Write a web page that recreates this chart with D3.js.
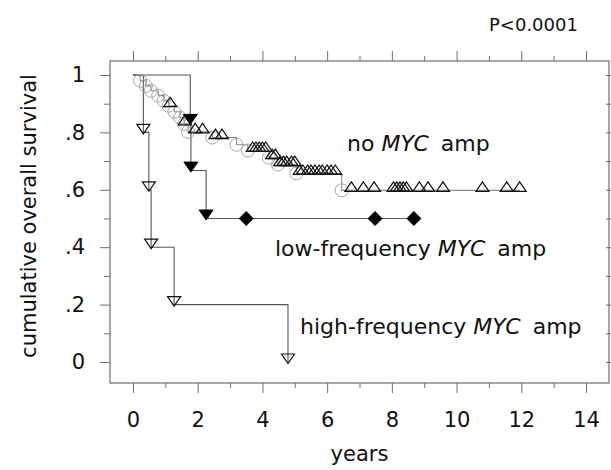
<!DOCTYPE html>
<html>
<head>
<meta charset="utf-8">
<script src="https://cdn.jsdelivr.net/npm/d3@7"></script>
<style>
  html, body { margin: 0; padding: 0; background: #fff; }
  svg { display: block; }
  text { font-family: "DejaVu Sans", Verdana, sans-serif; fill: #111; }
</style>
</head>
<body>
<svg id="chart" width="611" height="470"></svg>
<script>
// ---- data ----
const xTicks = [0, 2, 4, 6, 8, 10, 12, 14];
const yTicks = [0, 0.2, 0.4, 0.6, 0.8, 1];
const yTickLabels = ["0", ".2", ".4", ".6", ".8", "1"];

// no MYC amp: event times / survival after each event
const noMycEventTimes = [0.22, 0.40, 0.55, 0.78, 0.95, 1.10, 1.28, 1.45, 1.58, 1.70, 2.45, 3.20, 3.55, 4.20, 4.48, 5.05, 6.45];
const noMycSurvival   = [0.980, 0.962, 0.945, 0.928, 0.910, 0.893, 0.872, 0.852, 0.830, 0.802, 0.782, 0.757, 0.737, 0.712, 0.688, 0.657, 0.598];
const noMycCensored   = [1.15, 1.60, 1.92, 2.15, 2.55, 2.75, 3.70, 3.80, 3.90, 4.00, 4.10, 4.30, 4.40, 4.55, 4.65, 4.75, 4.90, 5.00,
                         5.15, 5.25, 5.40, 5.50, 5.62, 5.75, 5.85, 6.00, 6.12, 6.25, 6.75, 7.12, 7.45, 8.05, 8.15, 8.25, 8.35, 8.45,
                         8.85, 9.12, 9.58, 10.80, 11.55, 11.95];

// low-frequency MYC amp
const lowEventTimes = [1.77, 1.79, 2.26];
const lowSurvival   = [0.833, 0.667, 0.500];
const lowCensored   = [3.50, 7.48, 8.68];

// high-frequency MYC amp
const highEventTimes = [0.32, 0.49, 0.56, 1.27, 4.79];
const highSurvival   = [0.8, 0.6, 0.4, 0.2, 0.0];

const pLabel = "P<0.0001";

// ---- layout ----
const svg = d3.select("#chart");
const frame = { left: 110, right: 609, top: 61, bottom: 383 };
const x = d3.scaleLinear().domain([0, 14]).range([133, 586]);
const y = d3.scaleLinear().domain([0, 1]).range([362, 75]);

const axisColor = "#6e6e6e";

// frame
svg.append("rect")
  .attr("x", frame.left).attr("y", frame.top)
  .attr("width", frame.right - frame.left).attr("height", frame.bottom - frame.top)
  .attr("fill", "none").attr("stroke", axisColor).attr("stroke-width", 1.2);

// bottom axis (major + minor ticks)
const xMinor = d3.range(1, 15, 2);
const bottomAxis = d3.axisBottom(x).tickValues(xTicks).tickSize(10).tickPadding(19).tickFormat(d3.format("d"));
const gB = svg.append("g").attr("transform", `translate(0,${frame.bottom})`).call(bottomAxis);
gB.select(".domain").remove();
gB.selectAll("line").attr("stroke", axisColor);
gB.selectAll("text").attr("font-size", 21).attr("font-family", "DejaVu Sans").attr("fill", "#111");
const gBm = svg.append("g").attr("transform", `translate(0,${frame.bottom})`)
  .call(d3.axisBottom(x).tickValues(xMinor).tickSize(5).tickFormat(""));
gBm.select(".domain").remove();
gBm.selectAll("line").attr("stroke", axisColor);

// top axis ticks
const gT = svg.append("g").attr("transform", `translate(0,${frame.top})`)
  .call(d3.axisTop(x).tickValues(xTicks).tickSize(10).tickFormat(""));
gT.select(".domain").remove();
gT.selectAll("line").attr("stroke", axisColor);
const gTm = svg.append("g").attr("transform", `translate(0,${frame.top})`)
  .call(d3.axisTop(x).tickValues(xMinor).tickSize(5).tickFormat(""));
gTm.select(".domain").remove();
gTm.selectAll("line").attr("stroke", axisColor);

// left axis
const yMinor = [0.1, 0.3, 0.5, 0.7, 0.9];
const gL = svg.append("g").attr("transform", `translate(${frame.left},0)`)
  .call(d3.axisLeft(y).tickValues(yTicks).tickSize(10).tickPadding(15)
    .tickFormat((d, i) => yTickLabels[i]));
gL.select(".domain").remove();
gL.selectAll("line").attr("stroke", axisColor);
gL.selectAll("text").attr("font-size", 21).attr("font-family", "DejaVu Sans").attr("fill", "#111");
const gLm = svg.append("g").attr("transform", `translate(${frame.left},0)`)
  .call(d3.axisLeft(y).tickValues(yMinor).tickSize(6).tickFormat(""));
gLm.select(".domain").remove();
gLm.selectAll("line").attr("stroke", axisColor);

// right axis ticks (every 0.1)
const gR = svg.append("g").attr("transform", `translate(${frame.right},0)`)
  .call(d3.axisRight(y).tickValues(d3.range(0, 11).map(i => i / 10)).tickSize(3).tickFormat(""));
gR.select(".domain").remove();
gR.selectAll("line").attr("stroke", axisColor).attr("x1", -3);

// ---- survival curves ----
const stepLine = d3.line().x(d => x(d[0])).y(d => y(d[1])).curve(d3.curveStepAfter);

function stepValue(times, surv, t) {
  let s = 1;
  for (let i = 0; i < times.length; i++) if (times[i] <= t) s = surv[i];
  return s;
}
function curvePoints(times, surv, endT) {
  const pts = [[0, 1]];
  times.forEach((t, i) => pts.push([t, surv[i]]));
  if (endT !== undefined) pts.push([endT, surv[surv.length - 1]]);
  return pts;
}

// no MYC amp
const noMycEnd = d3.max(noMycCensored);
svg.append("path").attr("d", stepLine(curvePoints(noMycEventTimes, noMycSurvival, noMycEnd)))
  .attr("fill", "none").attr("stroke", "#8c8c8c").attr("stroke-width", 1.1);

// low-frequency
const lowEnd = d3.max(lowCensored);
svg.append("path").attr("d", stepLine(curvePoints(lowEventTimes, lowSurvival, lowEnd)))
  .attr("fill", "none").attr("stroke", "#555").attr("stroke-width", 1.1);

// high-frequency
svg.append("path").attr("d", stepLine(curvePoints(highEventTimes, highSurvival)))
  .attr("fill", "none").attr("stroke", "#555").attr("stroke-width", 1.1);

// markers: no MYC events (grey circles)
svg.append("g").selectAll("circle").data(noMycEventTimes).join("circle")
  .attr("cx", d => x(d)).attr("cy", (d, i) => y(noMycSurvival[i]))
  .attr("r", 6.5).attr("fill", "none").attr("stroke", "#a8a8a8").attr("stroke-width", 1);

// no MYC censored (open up triangles)
const upTri = "M-6.5,1L6.5,1L0,-8.5Z";
svg.append("g").selectAll("path").data(noMycCensored).join("path")
  .attr("transform", d => `translate(${x(d)},${y(stepValue(noMycEventTimes, noMycSurvival, d))})`)
  .attr("d", upTri).attr("fill", "none").attr("stroke", "#111").attr("stroke-width", 1.2);

// low-frequency events: filled down triangles
const downTri = "M-7,-8.5L7,-8.5L0,1.5Z";
svg.append("g").selectAll("path").data(lowEventTimes).join("path")
  .attr("transform", (d, i) => `translate(${x(d)},${y(lowSurvival[i])})`)
  .attr("d", downTri).attr("fill", "#000").attr("stroke", "#000");

// low-frequency censored: filled diamonds
svg.append("g").selectAll("path").data(lowCensored).join("path")
  .attr("transform", d => `translate(${x(d)},${y(stepValue(lowEventTimes, lowSurvival, d))})`)
  .attr("d", "M0,-7.5L7.5,0L0,7.5L-7.5,0Z").attr("fill", "#000");

// high-frequency events: open down triangles
svg.append("g").selectAll("path").data(highEventTimes).join("path")
  .attr("transform", (d, i) => `translate(${x(d)},${y(highSurvival[i])})`)
  .attr("d", "M-6.5,-8L6.5,-8L0,1.5Z").attr("fill", "none").attr("stroke", "#111").attr("stroke-width", 1.2);

// ---- text ----
function groupLabel(xp, yp, pre) {
  const t = svg.append("text").attr("x", xp).attr("y", yp).attr("font-size", 22);
  t.append("tspan").text(pre + " ");
  t.append("tspan").attr("font-style", "italic").text("MYC");
  t.append("tspan").attr("dx", 12).text("amp");
}
groupLabel(347, 151, "no");
groupLabel(275, 256, "low-frequency");
groupLabel(300, 334, "high-frequency");

svg.append("text").attr("x", 489).attr("y", 31).attr("font-size", 18).text(pLabel);

svg.append("text").attr("x", x(7)).attr("y", 461).attr("text-anchor", "middle")
  .attr("font-size", 21).text("years");

svg.append("text").attr("transform", `translate(36,${(frame.top + frame.bottom) / 2 - 6}) rotate(-90)`)
  .attr("text-anchor", "middle").attr("font-size", 21).text("cumulative overall survival");
</script>
</body>
</html>
